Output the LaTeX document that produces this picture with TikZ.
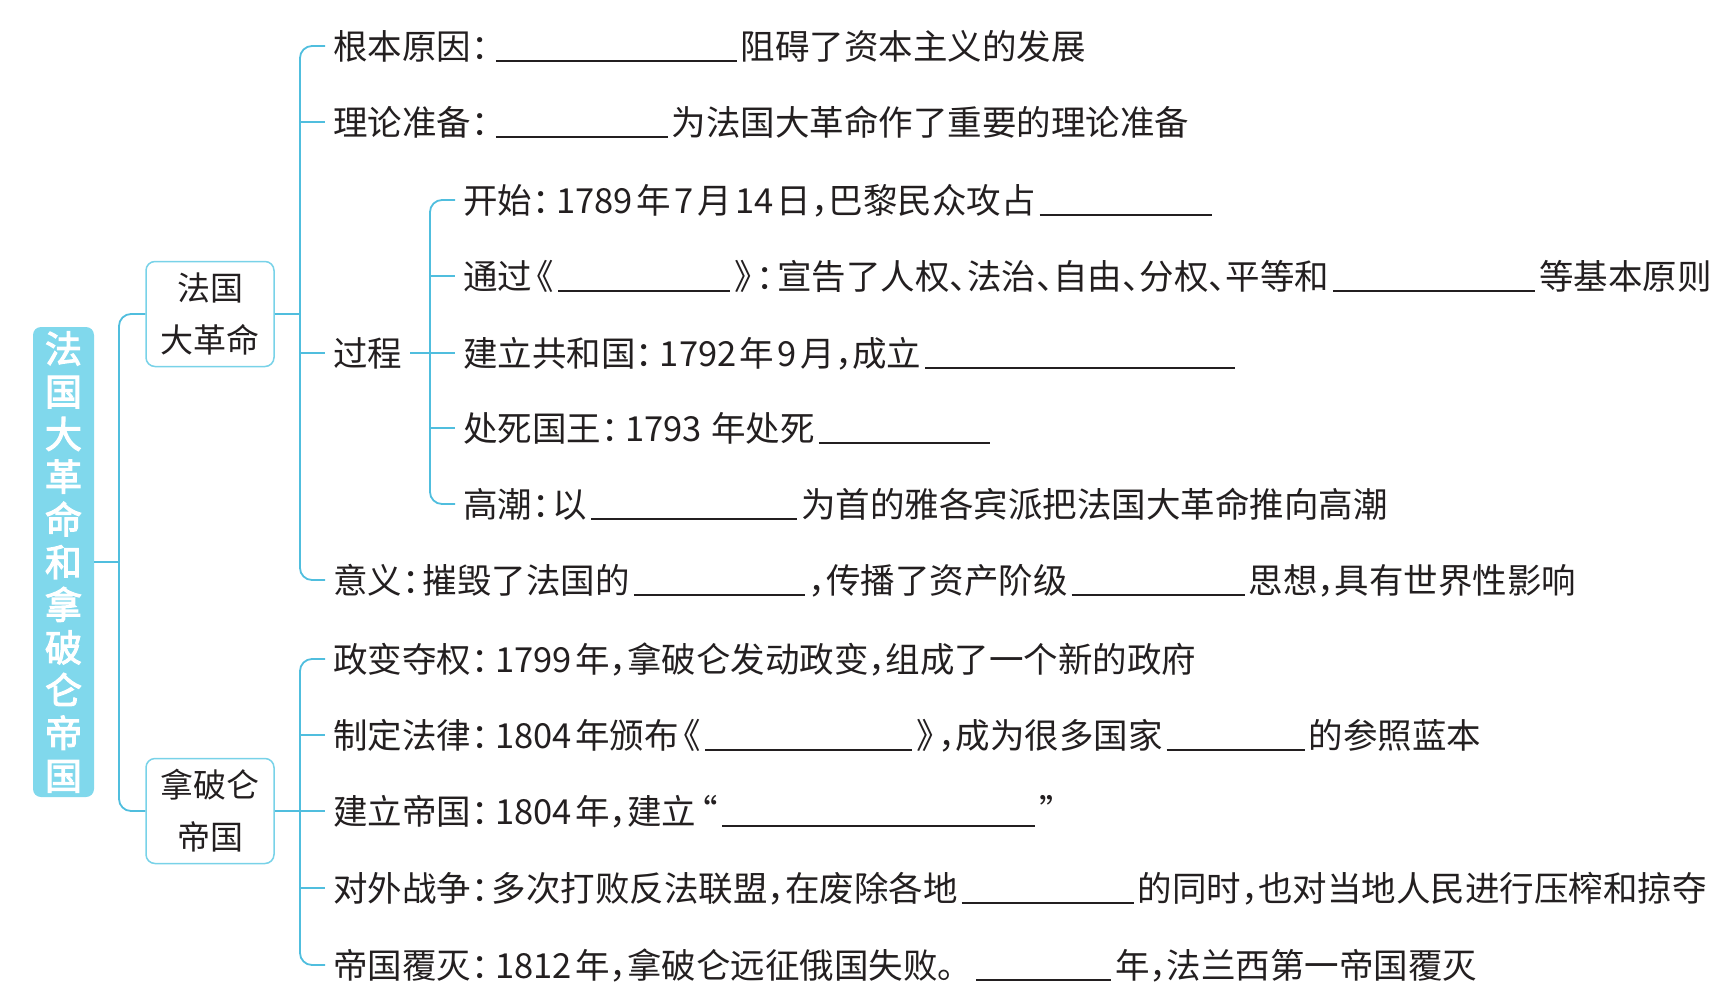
\documentclass[tikz,border=0pt]{standalone}
\usepackage{fontspec}
\setmainfont{Noto Sans CJK SC}[RawFeature=+halt]
\newfontfamily\rootfont{Noto Sans CJK SC}[FakeBold=3]
\definecolor{ink}{RGB}{35,31,32}
\definecolor{lineC}{RGB}{80,190,222}
\definecolor{boxC}{RGB}{120,210,232}
\definecolor{rootC}{RGB}{128,216,236}
\newcommand\blank[1]{\kern4pt\rule[-3pt]{#1pt}{1.6pt}\kern4pt}
\newcommand\cn{：\kern0.1em}
\newcommand\nm[1]{\kern3.5pt#1\kern3.5pt}
\newcommand\shL{\kern5pt《}
\newcommand\shR{》\kern5pt}
\begin{document}
\begin{tikzpicture}[x=1pt,y=-1pt,
  txt/.style={anchor=west,inner xsep=8pt,inner ysep=0pt,text height=30pt,text depth=4pt,
    font=\fontsize{34.5}{40}\selectfont,text=ink},
  conn/.style={draw=lineC,line width=1.8pt,rounded corners=12pt},
  catbox/.style={draw=boxC,line width=1.5pt,rounded corners=9pt,minimum width=128pt,
    minimum height=105pt,align=center,font=\fontsize{33}{52}\selectfont,text=ink,inner sep=0pt},
]
\useasboundingbox (0,0) rectangle (1730,1007);
% trunk coordinates
\coordinate (t0) at (119,0);
\coordinate (t1) at (300,0);
\coordinate (t2) at (430,0);
% root
\node[fill=rootC,rounded corners=8pt,minimum width=61pt,minimum height=470pt,text=white,
  align=center,font=\rootfont\fontsize{37}{42.7}\selectfont,inner sep=0pt]
  (root) at (63.5,562) {法\\国\\大\\革\\命\\和\\拿\\破\\仑\\帝\\国};
% category boxes
\node[catbox] (b1) at (210,314) {法国\\大革命};
\node[catbox] (b2) at (210,811) {拿破仑\\帝国};
% group 1
\node[txt] (r1) at (325,46) {根本原因\cn\blank{241}阻碍了资本主义的发展};
\node[txt] (r2) at (325,122) {理论准备\cn\blank{172}为法国大革命作了重要的理论准备};
\node[txt] (gc) at (325,353) {过程};
\node[txt] (r4) at (325,580) {意义\cn 摧毁了法国的\blank{171}，传播了资产阶级\blank{173}思想，具有世界性影响};
% process
\node[txt] (s1) at (455,200) {开始\cn\nm{1789}年\nm{7}月\nm{14}日，巴黎民众攻占\blank{172}};
\node[txt] (s2) at (455,276) {通过\shL\blank{172}\shR\cn 宣告了人权、法治、自由、分权、平等和\blank{202}等基本原则};
\node[txt] (s3) at (455,353) {建立共和国\cn\nm{1792}年\nm{9}月，成立\blank{310}};
\node[txt] (s4) at (455,428) {处死国王\cn\nm{1793}\kern6pt 年处死\blank{171}};
\node[txt] (s5) at (455,504) {高潮\cn 以\blank{206}为首的雅各宾派把法国大革命推向高潮};
% group 2
\node[txt] (n1) at (325,659) {政变夺权\cn\nm{1799}年，拿破仑发动政变，组成了一个新的政府};
\node[txt] (n2) at (325,735) {制定法律\cn\nm{1804}年颁布\shL\blank{207}\shR，成为很多国家\blank{138}的参照蓝本};
\node[txt] (n3) at (325,811) {建立帝国\cn\nm{1804}年，建立\kern5pt“\blank{313}”};
\node[txt] (n4) at (325,888) {对外战争\cn 多次打败反法联盟，在废除各地\blank{172}的同时，也对当地人民进行压榨和掠夺};
\node[txt] (n5) at (325,965) {帝国覆灭\cn\nm{1812}年，拿破仑远征俄国失败。\kern0.5em\blank{135}年，法兰西第一帝国覆灭};
% connectors: root level
\draw[conn] (root.east) -- (root.east -| t0);
\draw[conn] (b1.west) -- (b1.west -| t0) -- (b2.west -| t0) -- (b2.west);
% group 1
\draw[conn] (b1.east) -- (b1.east -| t1);
\draw[conn] (r1.west) -- (r1.west -| t1) -- (r4.west -| t1) -- (r4.west);
\foreach \c in {r2,gc} \draw[conn] (\c.west -| t1) -- (\c.west);
% process
\draw[conn] (gc.east) -- (gc.east -| t2);
\draw[conn] (s1.west) -- (s1.west -| t2) -- (s5.west -| t2) -- (s5.west);
\foreach \c in {s2,s3,s4} \draw[conn] (\c.west -| t2) -- (\c.west);
% group 2
\draw[conn] (b2.east) -- (b2.east -| t1);
\draw[conn] (n1.west) -- (n1.west -| t1) -- (n5.west -| t1) -- (n5.west);
\foreach \c in {n2,n3,n4} \draw[conn] (\c.west -| t1) -- (\c.west);
\end{tikzpicture}
\end{document}
